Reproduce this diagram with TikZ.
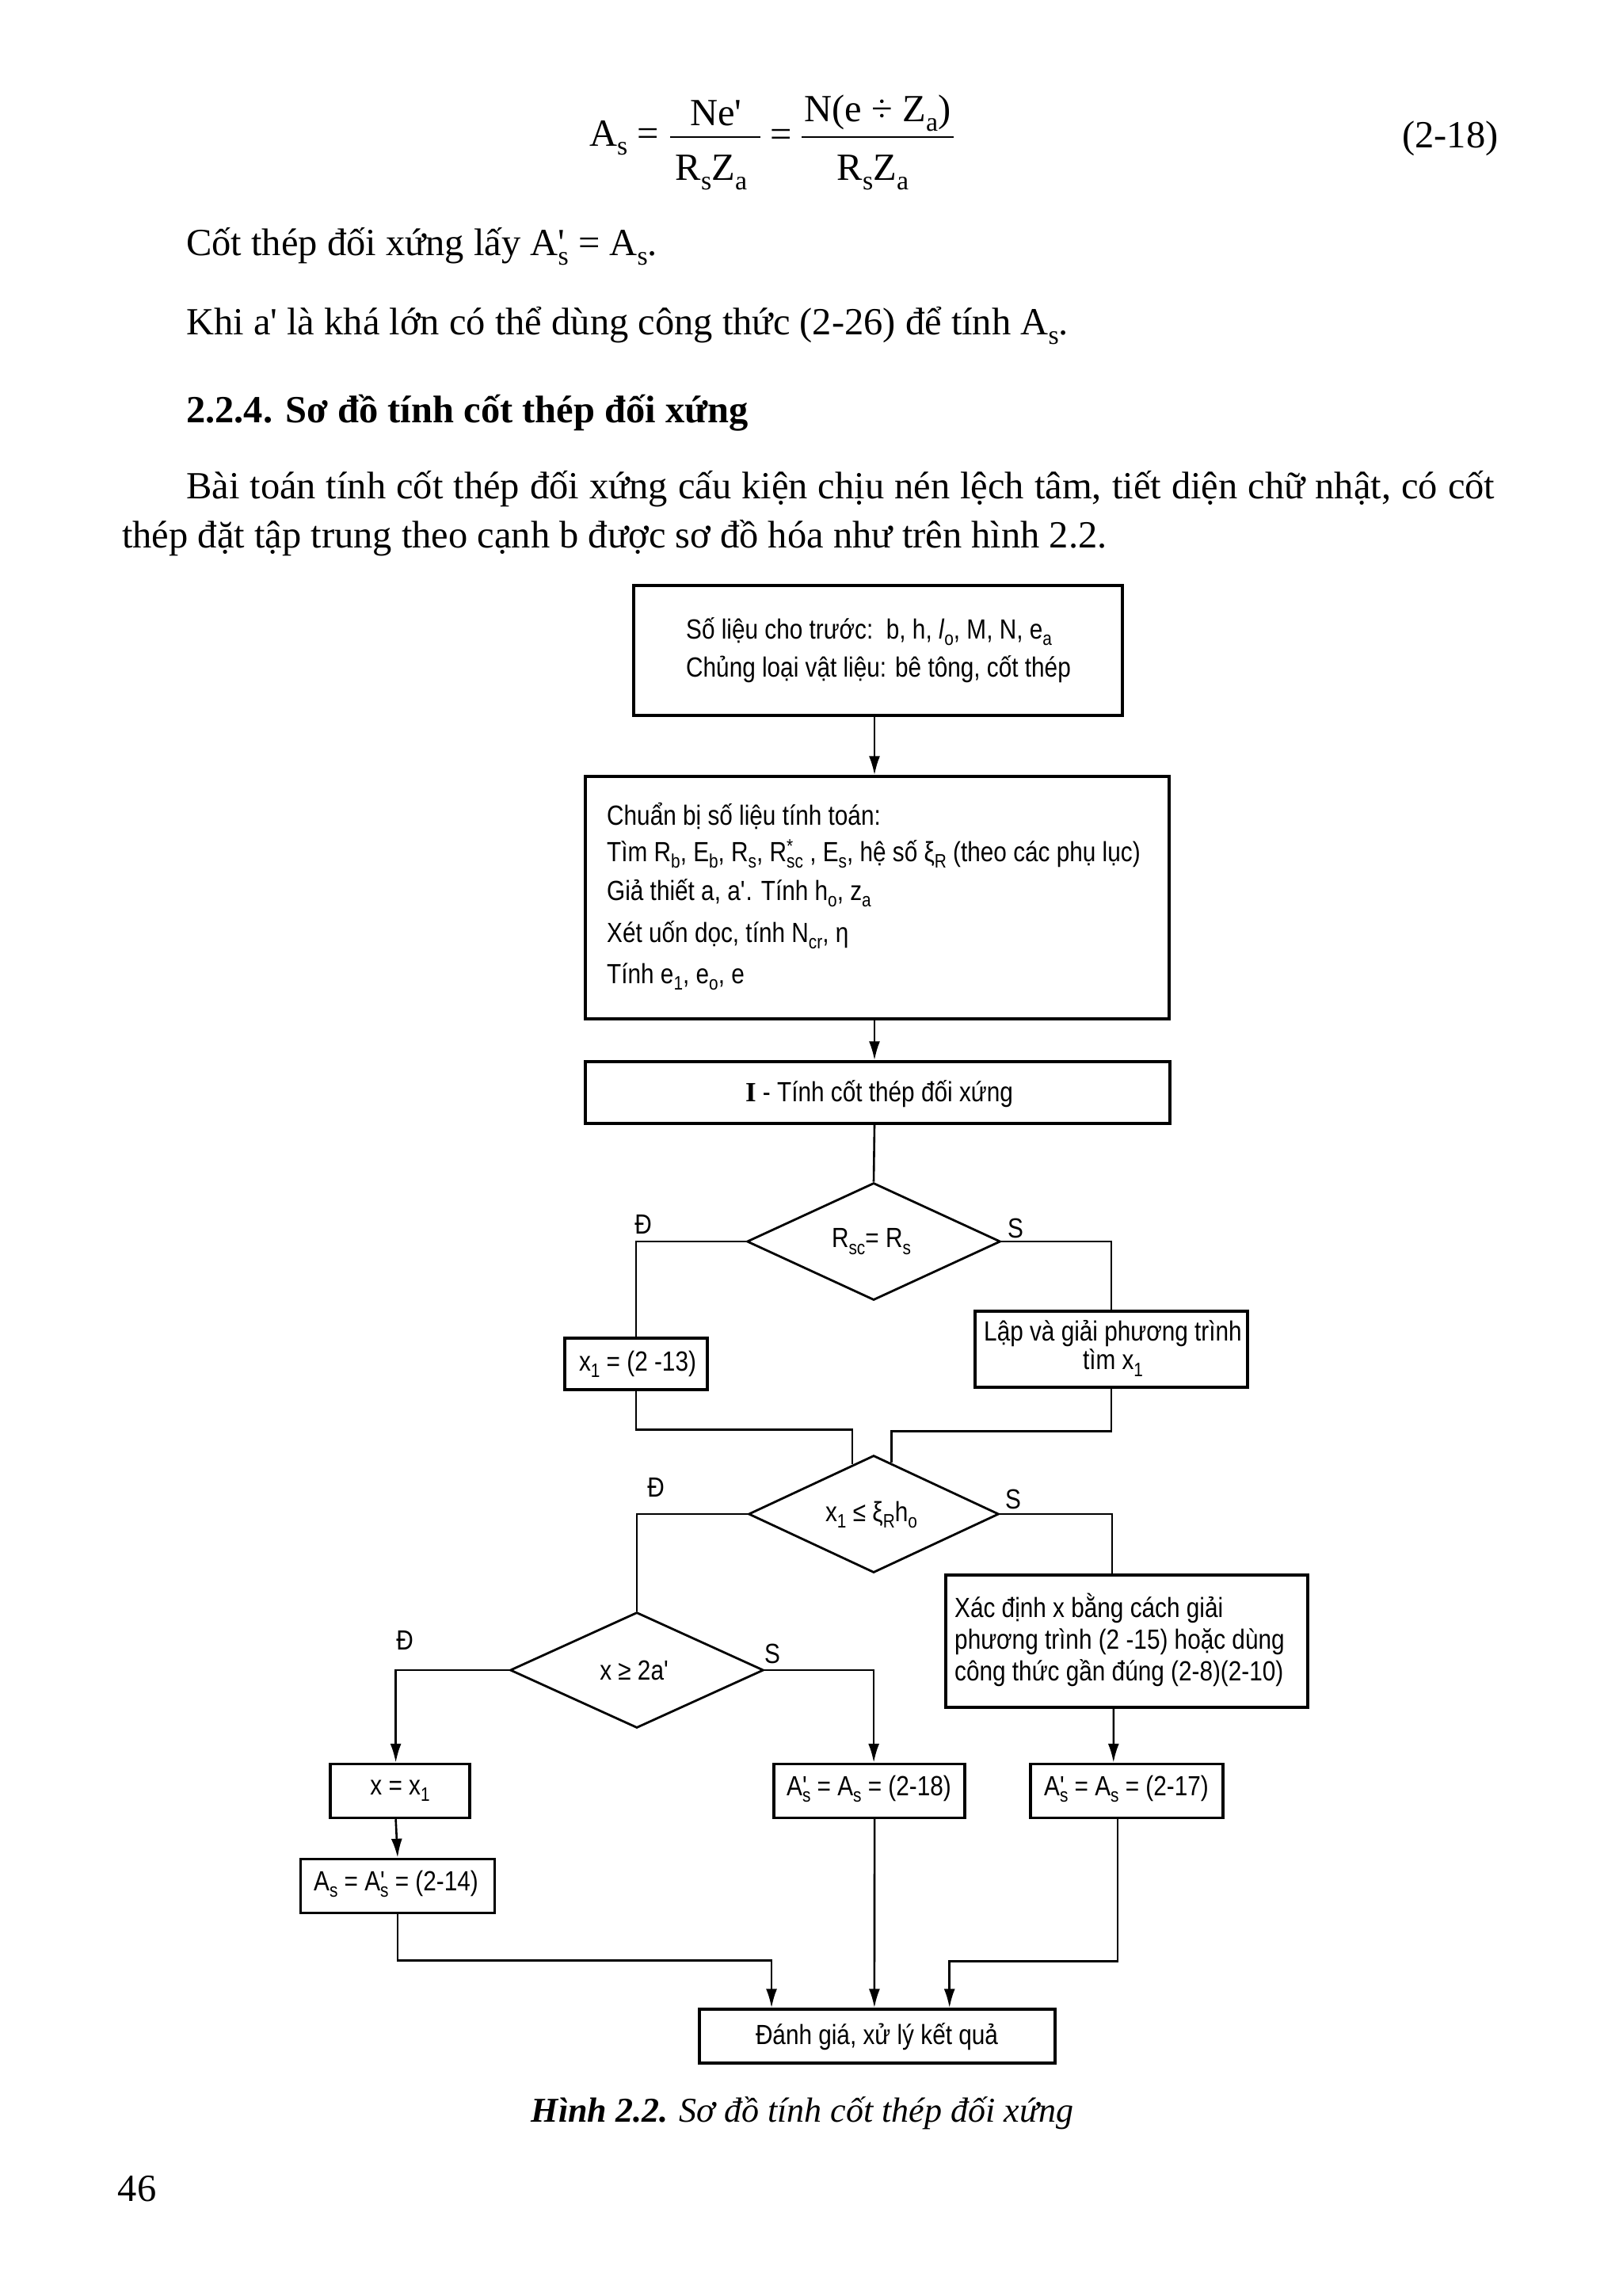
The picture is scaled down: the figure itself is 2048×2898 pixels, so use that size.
\documentclass[tikz,border=0pt]{standalone}
\usepackage{fontspec}
\setmainfont{Liberation Serif}
\newfontfamily\flowfam[FakeStretch=0.85]{Liberation Sans}
\usetikzlibrary{shapes.geometric,arrows.meta,calc}
\newcommand\qq{\textquotesingle}
\makeatletter
\newcommand\sbs[1]{\raisebox{-0.24em}{\fontsize{\fpeval{0.7*\f@size}}{1}\selectfont #1}}
\newcommand\sps[1]{\raisebox{0.3em}{\fontsize{\fpeval{0.7*\f@size}}{1}\selectfont #1}}
\makeatother
\newcommand\psb[1]{\rlap{\qq}\sbs{#1}}
\begin{document}
\begin{tikzpicture}[x=1pt,y=-1pt,
  body/.style={font=\fontsize{48.5}{58}\selectfont, inner sep=0pt},
  ft/.style={font=\flowfam\fontsize{35}{42}\selectfont, inner sep=0pt},
  box/.style={draw, line width=3.4pt, inner sep=0pt},
  dia/.style={draw, line width=2.8pt, diamond, inner sep=0pt},
  conn/.style={line width=2.6pt},
  arr/.style={conn, -{Latex[length=24pt,width=14pt]}},
]
\useasboundingbox (0,0) rectangle (2048,2898);
\fill[white] (0,0) rectangle (2048,2898);

% ---------- text above ----------
\node[body, anchor=west] (fa) at (744,174) {A\sbs{s} =};
\node[body] (fn1) at (904,143) {Ne\qq};
\node[body] (fd1) at (898,218) {R\sbs{s}Z\sbs{a}};
\draw[line width=2.4pt] (846,173) -- (960,173);
\node[body] (fe) at (986,174) {=};
\node[body] (fn2) at (1108,143) {N(e ÷ Z\sbs{a})};
\node[body] (fd2) at (1102,218) {R\sbs{s}Z\sbs{a}};
\draw[line width=2.4pt] (1012,173) -- (1204,173);
\node[body, anchor=west] (feq) at (1770,175) {(2-18)};

\node[body, anchor=west] (p1) at (235,311) {Cốt thép đối xứng lấy A\psb{s} = A\sbs{s}.};
\node[body, anchor=west] (p2) at (235,411) {Khi a\qq{} là khá lớn có thể dùng công thức (2-26) để tính A\sbs{s}.};
\node[body, anchor=west, font=\fontsize{48.5}{58}\selectfont\bfseries] (h1) at (235,521) {2.2.4. Sơ đồ tính cốt thép đối xứng};
\node[body, anchor=west] (p3) at (235,617) {\makebox[1652pt][s]{Bài toán tính cốt thép đối xứng cấu kiện chịu nén lệch tâm, tiết diện chữ nhật, có cốt}};
\node[body, anchor=west] (p4) at (154,679) {thép đặt tập trung theo cạnh b được sơ đồ hóa như trên hình 2.2.};

% ---------- flowchart ----------
\node[box, minimum width=617pt, minimum height=164pt] (b1) at (1108.5,821) {};
\node[ft, anchor=west] (t1a) at (866,797) {Số liệu cho trước:\ \ b, h, \textit{l}\sbs{o}, M, N, e\sbs{a}};
\node[ft, anchor=west] (t1b) at (866,845) {Chủng loại vật liệu: bê tông, cốt thép};

\node[box, minimum width=737pt, minimum height=306pt] (b2) at (1107.5,1133) {};
\node[ft, anchor=west] (t2a) at (766,1030) {Chuẩn bị số liệu tính toán:};
\node[ft, anchor=west] (t2b) at (766,1078) {Tìm R\sbs{b}, E\sbs{b}, R\sbs{s}, R\rlap{\sps{*}}\sbs{sc} , E\sbs{s}, hệ số ξ\sbs{R} (theo các phụ lục)};
\node[ft, anchor=west] (t2c) at (766,1127) {Giả thiết a, a\qq. Tính h\sbs{o}, z\sbs{a}};
\node[ft, anchor=west] (t2d) at (766,1180) {Xét uốn dọc, tính N\sbs{cr}, η};
\node[ft, anchor=west] (t2e) at (766,1233) {Tính e\sbs{1}, e\sbs{o}, e};

\node[box, minimum width=738pt, minimum height=78pt] (b3) at (1108,1379) {};
\node[ft] (t3) at (1110,1381) {{\rmfamily\bfseries I} - Tính cốt thép đối xứng};

\draw[arr] (b1.south -| 1104,0) -- (b2.north -| 1104,0);
\draw[arr] (b2.south -| 1104,0) -- (b3.north -| 1104,0);

% diamond 1
\node[dia, minimum width=320pt, minimum height=148pt] (d1) at (1103,1567) {};
\node[ft] (td1) at (1100,1567) {R\sbs{sc}= R\sbs{s}};
\node[ft] (l1d) at (812,1545) {Đ};
\node[ft] (l1s) at (1282,1550) {S};
\draw[conn] (b3.south -| 1104,0) -- (d1.north);

\node[box, minimum width=180pt, minimum height=65pt] (bx1) at (803,1721.5) {};
\node[ft] (tx1) at (805,1722) {x\sbs{1} = (2 -13)};
\node[box, minimum width=344pt, minimum height=96pt] (bl) at (1403,1703) {};
\node[ft] (tla) at (1405,1683) {Lập và giải phương trình};
\node[ft] (tlb) at (1405,1720) {tìm x\sbs{1}};
\draw[conn] (d1.west) -| (bx1.north);
\draw[conn] (d1.east) -| (bl.north);

% diamond 2
\node[dia, minimum width=316pt, minimum height=148pt] (d2) at (1103,1911) {};
\node[ft] (td2) at (1100,1912) {x\sbs{1} ≤ ξ\sbs{R}h\sbs{o}};
\node[ft] (l2d) at (828,1877) {Đ};
\node[ft] (l2s) at (1279,1892) {S};
\draw[conn] (bx1.south) -- ++(0,49) -| ($(d2.north)!0.17!(d2.west)$);
\draw[conn] (bl.south) -- ++(0,54) -| ($(d2.north)!0.14!(d2.east)$);

\node[box, minimum width=457pt, minimum height=167pt] (bx) at (1422.5,2071.5) {};
\node[ft, anchor=west] (txa) at (1205,2030) {Xác định x bằng cách giải};
\node[ft, anchor=west] (txb) at (1205,2072) {phương trình (2 -15) hoặc dùng};
\node[ft, anchor=west] (txc) at (1205,2112) {công thức gần đúng (2-8)(2-10)};

% diamond 3
\node[dia, minimum width=320pt, minimum height=146pt] (d3) at (804,2108) {};
\node[ft] (td3) at (801,2108) {x ≥ 2a\qq};
\node[ft] (l3d) at (511,2070) {Đ};
\node[ft] (l3s) at (975,2087) {S};
\draw[conn] (d2.west) -| (d3.north);
\draw[conn] (d2.east) -| ($(bx.north west)!0.46!(bx.north east)$);

% result boxes
\node[box, minimum width=176pt, minimum height=68pt] (bxx) at (505,2260.5) {};
\node[ft] (txx) at (505,2260) {x = x\sbs{1}};
\node[box, minimum width=241pt, minimum height=68pt] (b18) at (1097.5,2260.5) {};
\node[ft] (t18) at (1097,2258) {A\psb{s} = A\sbs{s} = (2-18)};
\node[box, minimum width=243pt, minimum height=68pt] (b17) at (1422.5,2260.5) {};
\node[ft] (t17) at (1422,2258) {A\psb{s} = A\sbs{s} = (2-17)};
\node[box, minimum width=245pt, minimum height=68pt] (bas) at (502,2380.5) {};
\node[ft] (tas) at (500,2378) {A\sbs{s} = A\psb{s} = (2-14)};
\node[box, minimum width=449pt, minimum height=68pt] (bf) at (1107.5,2570) {};
\node[ft] (tf) at (1107,2571) {Đánh giá, xử lý kết quả};

\draw[arr] (d3.west) -| ($(bxx.north west)!0.47!(bxx.north east)$);
\draw[arr] (d3.east) -| ($(b18.north west)!0.523!(b18.north east)$);
\draw[arr] ($(bx.south west)!0.464!(bx.south east)$) -- ($(b17.north west)!0.432!(b17.north east)$);
\draw[arr] ($(bxx.south west)!0.47!(bxx.south east)$) -- (bas.north);
\draw[arr] (bas.south) -- ++(0,58) -| ($(bf.north west)!0.205!(bf.north east)$);
\draw[arr] ($(b18.south west)!0.527!(b18.south east)$) -- ($(bf.north west)!0.492!(bf.north east)$);
\draw[arr] ($(b17.south west)!0.453!(b17.south east)$) -- ++(0,179) -| ($(bf.north west)!0.7016!(bf.north east)$);

% caption and page number
\node[body, font=\fontsize{44}{54}\selectfont] (cap) at (1013,2667) {\textbf{\textit{Hình 2.2.}} \textit{Sơ đồ tính cốt thép đối xứng}};
\node[body] (pg) at (173,2763) {46};
\end{tikzpicture}
\end{document}
